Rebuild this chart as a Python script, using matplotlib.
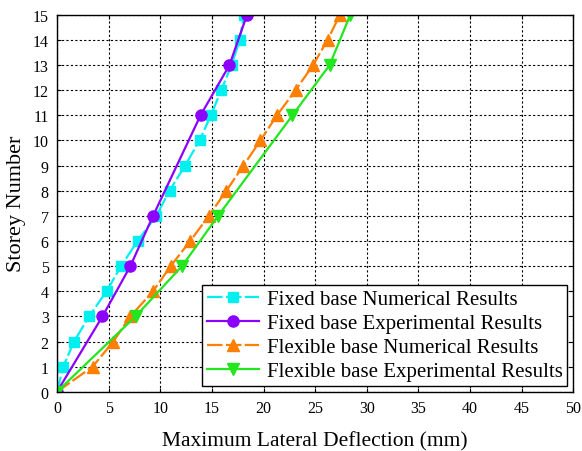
import numpy as np
import matplotlib
matplotlib.use("Agg")
import matplotlib.pyplot as plt

## DONNEES
storey_all = [0, 1, 2, 3, 4, 5, 6, 7, 8, 9, 10, 11, 12, 13, 14, 15]
storey_exp = [0, 3, 5, 7, 11, 13, 15]

fixed_num = [0, 0.6, 1.65, 3.1, 4.8, 6.2, 7.8, 9.6, 10.9, 12.4, 13.8, 14.9, 15.9, 16.9, 17.7, 18.1]
fixed_exp = [0, 4.4, 7.1, 9.3, 13.9, 16.7, 18.4]
flex_num = [0, 3.45, 5.45, 7.1, 9.3, 11.0, 12.9, 14.7, 16.4, 18.05, 19.7, 21.3, 23.1, 24.8, 26.2, 27.4]
flex_exp = [0, 7.6, 12.1, 15.6, 22.8, 26.4, 28.4]

labels = ["Fixed base Numerical Results", "Fixed base Experimental Results",
          "Flexible base Numerical Results", "Flexible base Experimental Results"]

plt.rcParams["font.family"] = ["Liberation Serif", "DejaVu Serif"]

fig = plt.figure(figsize=(5.82, 4.52), dpi=100)
ax = fig.add_axes([0.098, 0.131, 0.887, 0.834])

dash = (0, (7, 1.5))
ax.plot(fixed_num, storey_all, color="#00F0F0", lw=1.6, ls=dash, marker="s", ms=6.5, label=labels[0])
ax.plot(fixed_exp, storey_exp, color="#8C00FF", lw=1.6, marker="o", ms=8, label=labels[1])
ax.plot(flex_num, storey_all, color="#FF7F00", lw=1.6, ls=dash, marker="^", ms=8, label=labels[2])
ax.plot(flex_exp, storey_exp, color="#22E61E", lw=1.6, marker="v", ms=8, label=labels[3])

## AXES
ax.set_xlim(0, 50)
ax.set_ylim(0, 15)
ax.set_xticks(np.arange(0, 51, 5))
ax.set_yticks(np.arange(0, 16, 1))
ax.tick_params(direction="in", top=True, right=True, labelsize=11.5, length=3, pad=6)
ax.grid(True, color="black", ls=(0, (2, 2)), lw=0.8)
ax.set_xlabel("Maximum Lateral Deflection (mm)", fontsize=15.5, labelpad=11)
ax.set_ylabel("Storey Number", fontsize=16, labelpad=5)
for s in ax.spines.values():
    s.set_linewidth(1.0)

leg = ax.legend(loc="lower right", fontsize=15, fancybox=False, edgecolor="black",
                framealpha=1, handlelength=2.5, borderpad=0.2, labelspacing=0.22,
                handletextpad=0.4, borderaxespad=0.3)
leg.get_frame().set_linewidth(1.0)

fig.savefig("out.png", dpi=100)
